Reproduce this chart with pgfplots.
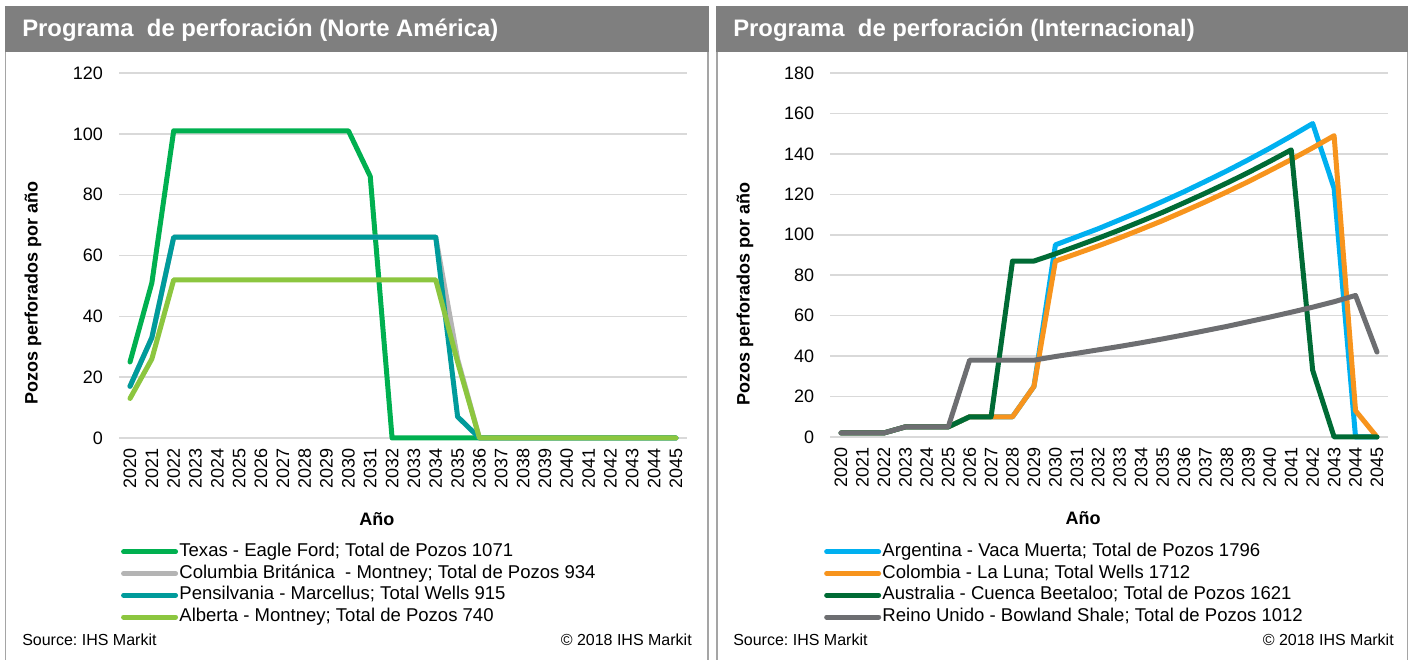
\documentclass[border=0pt]{standalone}
\usepackage{fontspec}
\setmainfont{Liberation Sans}
\usepackage{pgfplots}
\pgfplotsset{compat=1.18}
\usepackage{pgfplotstable}
\frenchspacing

\definecolor{txgreen}{HTML}{00B050}
\definecolor{bcgray}{HTML}{B4B4B4}
\definecolor{pateal}{HTML}{009B9B}
\definecolor{abgreen}{HTML}{8CC63F}
\definecolor{arblue}{HTML}{00B0F0}
\definecolor{coorange}{HTML}{F7941D}
\definecolor{audkgreen}{HTML}{006B35}
\definecolor{ukgray}{HTML}{6D6E71}
\definecolor{gridgray}{HTML}{D9D9D9}
\definecolor{headgray}{HTML}{7F7F7F}
\definecolor{framegray}{HTML}{A5A5A5}

% Norte America: wells per year
\pgfplotstableread{
year tx  bc  pa  ab
2020 25  17  17  13
2021 51  33  33  26
2022 101 66  66  52
2023 101 66  66  52
2024 101 66  66  52
2025 101 66  66  52
2026 101 66  66  52
2027 101 66  66  52
2028 101 66  66  52
2029 101 66  66  52
2030 101 66  66  52
2031 86  66  66  52
2032 0   66  66  52
2033 0   66  66  52
2034 0   66  66  52
2035 0   26  7   25
2036 0   0   0   0
2037 0   0   0   0
2038 0   0   0   0
2039 0   0   0   0
2040 0   0   0   0
2041 0   0   0   0
2042 0   0   0   0
2043 0   0   0   0
2044 0   0   0   0
2045 0   0   0   0
}\northam

% Internacional: wells per year
\pgfplotstableread{
year ar  co  au  uk
2020 2   2   2   2
2021 2   2   2   2
2022 2   2   2   2
2023 5   5   5   5
2024 5   5   5   5
2025 5   5   5   5
2026 10  10  10  38
2027 10  10  10  38
2028 10  10  87  38
2029 25  25  87  38
2030 95  87  90.6 39.8
2031 99  90.7 94.4 41.4
2032 103 94.5 98.3 43.1
2033 107.4 98.5 102.4 44.8
2034 111.8 102.7 106.7 46.6
2035 116.5 107 111.1 48.5
2036 121.3 111.6 115.8 50.5
2037 126.4 116.3 120.6 52.6
2038 131.6 121.2 125.6 54.7
2039 137.1 126.3 130.8 57
2040 142.8 131.7 136.3 59.3
2041 148.8 137.2 142 61.7
2042 155 143 33  64.2
2043 123 149 0   66.9
2044 0   13  0   70
2045 0   0   0   42
}\intl

\pgfplotsset{
  drill/.style={
    scale only axis, clip=false,
    xmin=2019.5, xmax=2045.5, ymin=0,
    xtick={2020,...,2045},
    axis line style={draw=none}, tick style={draw=none},
    ymajorgrids, major grid style={draw=gridgray, line width=1.1pt},
    /pgf/number format/assume math mode=true,
    /pgf/number format/1000 sep={},
    tick label style={font=\fontsize{13.5}{15}\selectfont},
    x tick label style={rotate=90, anchor=east, inner xsep=7.5pt, inner ysep=0pt},
    y tick label style={inner sep=0pt, xshift=-12pt},
    label style={font=\bfseries\fontsize{13.5}{15}\selectfont},
    every axis plot/.append style={line width=3.75pt, line cap=round, line join=round, no markers},
    legend style={draw=none, fill=none, inner sep=0pt, row sep=0pt,
      font=\fontsize{13.9}{16}\selectfont, cells={anchor=west},
      nodes={inner sep=1pt, text height=10.5pt, text depth=3.8pt}},
    legend image code/.code={\draw[##1] (0pt,0pt) -- (39pt,0pt);},
  },
}

\begin{document}
\begin{tikzpicture}[x=0.75pt, y=0.75pt]
\path[use as bounding box] (0,0) rectangle (1411,660);

% panel frames and headers
\fill[headgray] (5,608) rectangle (709,654);
\fill[headgray] (716,608) rectangle (1408,654);
\draw[framegray, line width=1.3pt] (5.5,0) -- (5.5,608);
\draw[framegray, line width=1.3pt] (708.3,0) -- (708.3,608);
\draw[framegray, line width=1.3pt] (716.8,0) -- (716.8,608);
\draw[framegray, line width=1.3pt] (1407.5,0) -- (1407.5,608);

\node[anchor=west, text=white, font=\bfseries\fontsize{17.9}{20}\selectfont, inner sep=0pt] at (22,630) {Programa\ \ de perforación (Norte América)};
\node[anchor=west, text=white, font=\bfseries\fontsize{17.9}{20}\selectfont, inner sep=0pt] at (733,630) {Programa\ \ de perforación (Internacional)};

\node[anchor=west, font=\fontsize{12}{14}\selectfont, inner sep=0pt] at (22,20) {Source: IHS Markit};
\node[anchor=east, font=\fontsize{12}{14}\selectfont, inner sep=0pt] at (692,20) {© 2018 IHS Markit};
\node[anchor=west, font=\fontsize{12}{14}\selectfont, inner sep=0pt] at (733,20) {Source: IHS Markit};
\node[anchor=east, font=\fontsize{12}{14}\selectfont, inner sep=0pt] at (1394,20) {© 2018 IHS Markit};

% left chart
\begin{axis}[drill,
  at={(89.325pt,166.5pt)}, anchor=south west,
  width=425.85pt, height=273.75pt,
  ymax=120, ytick={0,20,...,120},
  xlabel={Año}, ylabel={Pozos perforados por año},
  xlabel style={at={(axis description cs:0.454,-0.222)}, anchor=center},
  ylabel style={at={(axis description cs:-0.1516,0.396)}, anchor=center},
  legend style={at={(axis description cs:0.003,-0.2813)}, anchor=north west},
]
\addplot[txgreen] table[x=year, y=tx] {\northam};
\addlegendentry{Texas - Eagle Ford; Total de Pozos 1071}
\addplot[bcgray] table[x=year, y=bc] {\northam};
\addlegendentry{Columbia Británica\ \ - Montney; Total de Pozos 934}
\addplot[pateal] table[x=year, y=pa] {\northam};
\addlegendentry{Pensilvania - Marcellus; Total Wells 915}
\addplot[abgreen] table[x=year, y=ab] {\northam};
\addlegendentry{Alberta - Montney; Total de Pozos 740}
\end{axis}

% right chart
\begin{axis}[drill,
  at={(622.725pt,167.25pt)}, anchor=south west,
  width=418.05pt, height=273pt,
  ymax=180, ytick={0,20,...,180},
  xlabel={Año}, ylabel={Pozos perforados por año},
  xlabel style={at={(axis description cs:0.4534,-0.2225)}, anchor=center},
  ylabel style={at={(axis description cs:-0.153,0.394)}, anchor=center},
  legend style={at={(axis description cs:-0.0115,-0.2848)}, anchor=north west},
]
\addplot[arblue] table[x=year, y=ar] {\intl};
\addlegendentry{Argentina - Vaca Muerta; Total de Pozos 1796}
\addplot[coorange] table[x=year, y=co] {\intl};
\addlegendentry{Colombia - La Luna; Total Wells 1712}
\addplot[audkgreen] table[x=year, y=au] {\intl};
\addlegendentry{Australia - Cuenca Beetaloo; Total de Pozos 1621}
\addplot[ukgray] table[x=year, y=uk] {\intl};
\addlegendentry{Reino Unido - Bowland Shale; Total de Pozos 1012}
\end{axis}
\end{tikzpicture}
\end{document}
